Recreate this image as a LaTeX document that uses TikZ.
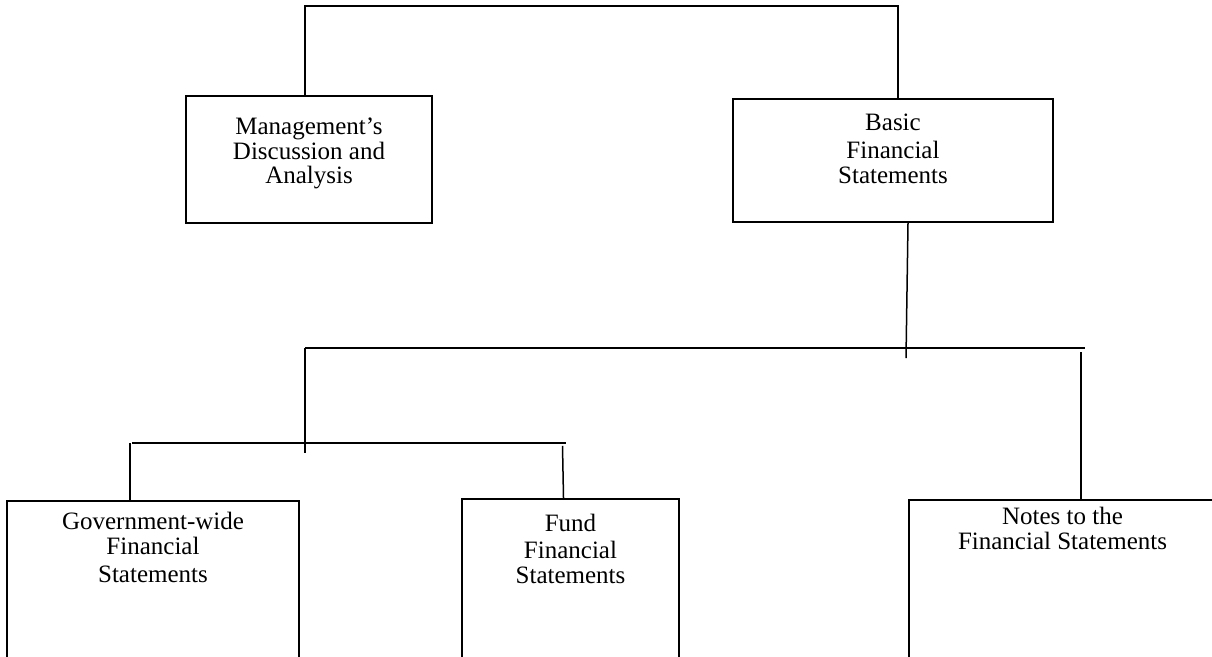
\documentclass[tikz,border=0pt]{standalone}
\usepackage{fontspec}
\setmainfont{Liberation Serif}

\tikzset{
  box/.style={draw, line width=2.3pt, inner sep=0pt},
  boxtext/.style={anchor=north, align=center, inner sep=0pt, font=\fontsize{25}{20}\selectfont},
  link/.style={line width=1.5pt}
}

\begin{document}
\begin{tikzpicture}[x=1pt,y=-1pt]
    \useasboundingbox (0,0) rectangle (1212,656);
    \clip (0,0) rectangle (1212,656);
    % top row
    \node[box, minimum width=246pt, minimum height=127pt,
      label={[boxtext,yshift=-23pt]north:Management’s\\[1pt]Discussion and\\[4pt]Analysis}] (mda) at (309,159.5) {};
    \node[box, minimum width=320pt, minimum height=123pt,
      label={[boxtext,yshift=-16pt]north:Basic\\[8pt]Financial\\[5pt]Statements}] (bfs) at (893,160.5) {};
    % bottom row
    \node[box, minimum width=292pt, minimum height=200pt,
      label={[boxtext,yshift=-12pt]north:Government-wide\\[5pt]Financial\\[8pt]Statements}] (gov) at (153,601) {};
    \node[box, minimum width=217pt, minimum height=200pt,
      label={[boxtext,yshift=-16pt]north:Fund\\[7pt]Financial\\[5pt]Statements}] (fund) at (570.5,599) {};
    \node[box, minimum width=307pt, minimum height=200pt,
      label={[boxtext,yshift=-8pt]north:Notes to the\\[5pt]Financial Statements}] (notes) at (1062.5,600) {};
    % top bar
    \draw[link] ([xshift=-4pt]mda.north) -- ++(0,-89) -| ([xshift=5pt]bfs.north);
    % middle bar
    \coordinate (midL) at (305,348);
    \coordinate (midR) at (1085,348);
    \draw[link] (midL) -- (midR);
    \draw[link] ([xshift=15pt]bfs.south) -- ++(-2,135);
    \draw[link] ([xshift=18.5pt]notes.north) -- ++(0,-147);
    \draw[link] (midL) -- ++(0,105);
    % lower bar
    \coordinate (lowL) at (132,443);
    \coordinate (lowR) at (566,443);
    \draw[link] (lowL) -- (lowR);
    \draw[link] ([xshift=-23pt]gov.north) -- ([xshift=-23pt]gov.north |- lowL);
    \draw[link] ([xshift=-7pt]fund.north) -- ++(-1,-52);
\end{tikzpicture}
\end{document}
